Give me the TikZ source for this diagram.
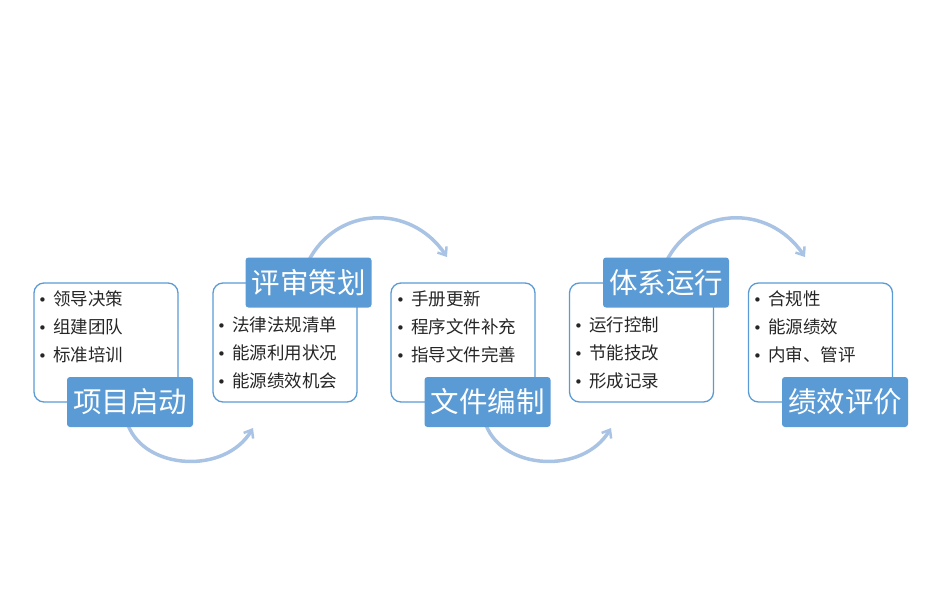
\documentclass[tikz,border=0pt]{standalone}
\usepackage{fontspec}
\setmainfont{Noto Sans CJK SC}
\newfontfamily\cjk{Noto Sans CJK SC}
\newfontfamily\bulfont{DejaVu Sans}
\usetikzlibrary{arrows.meta}
\definecolor{accent}{HTML}{5B9BD5}
\definecolor{arcblue}{HTML}{A9C3E4}
\newcommand{\bul}{\makebox[14pt][l]{\hspace{-1pt}{\bulfont\fontsize{15}{15}\selectfont •}}}
\tikzset{
  panel/.style={draw=accent, line width=1.3pt, fill=white, rounded corners=10pt, minimum width=144pt, minimum height=119pt, inner sep=0pt},
  stagelabel/.style={fill=accent, text=white, rounded corners=3pt, minimum width=126pt, minimum height=50pt, inner sep=0pt, font=\cjk\fontsize{28.5}{30}\selectfont},
  item/.style={anchor=west, inner sep=0pt, font=\cjk\fontsize{17.5}{19}\selectfont, text=black!85},
  flow/.style={draw=arcblue, line width=3.5pt, -{Straight Barb[length=7pt,width=11pt,line width=2.5pt]}}
}
\begin{document}
\begin{tikzpicture}[x=1pt,y=-1pt]
\useasboundingbox (0,0) rectangle (932,607);
% panels
\node[panel] (p1) at (106,342.5) {};
\node[panel] (p2) at (285,342.5) {};
\node[panel] (p3) at (463,342.5) {};
\node[panel] (p4) at (641.5,342.5) {};
\node[panel] (p5) at (820.5,342.5) {};
% items
\foreach \t [count=\i from 0] in {领导决策,组建团队,标准培训}
  \node[item] at (39,299+28*\i) {\bul\t};
\foreach \t [count=\i from 0] in {法律法规清单,能源利用状况,能源绩效机会}
  \node[item] at (218,325+28*\i) {\bul\t};
\foreach \t [count=\i from 0] in {手册更新,程序文件补充,指导文件完善}
  \node[item] at (397,299+28*\i) {\bul\t};
\foreach \t [count=\i from 0] in {运行控制,节能技改,形成记录}
  \node[item] at (575,325+28*\i) {\bul\t};
\foreach \t [count=\i from 0] in {合规性,能源绩效,内审、管评}
  \node[item] at (754,299+28*\i) {\bul\t};
% arcs
\coordinate (a1s) at (128,425);
\coordinate (a1e) at (253,428);
\coordinate (a2s) at (308,262);
\coordinate (a2e) at (447,257);
\coordinate (a3s) at (486,425);
\coordinate (a3e) at (611,428);
\coordinate (a4s) at (666,262);
\coordinate (a4e) at (805,257);
\draw[flow] (a1s) .. controls (145,470) and (225,475) .. (a1e);
\draw[flow] (a2s) .. controls (335,207) and (410,202) .. (a2e);
\draw[flow] (a3s) .. controls (503,470) and (583,475) .. (a3e);
\draw[flow] (a4s) .. controls (693,207) and (768,202) .. (a4e);
% labels
\node[stagelabel] (l1) at (130,402) {项目启动};
\node[stagelabel] (l2) at (308.5,282.5) {评审策划};
\node[stagelabel] (l3) at (487.5,402) {文件编制};
\node[stagelabel] (l4) at (666,282.5) {体系运行};
\node[stagelabel] (l5) at (845,402) {绩效评价};
\end{tikzpicture}
\end{document}
